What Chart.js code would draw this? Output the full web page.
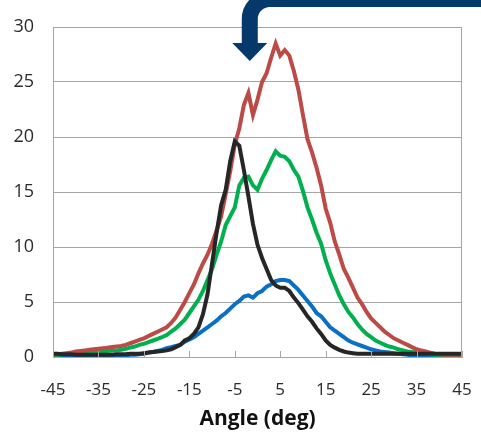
<!DOCTYPE html>
<html>
<head>
<meta charset="utf-8">
<script src="https://cdn.jsdelivr.net/npm/chart.js@4"></script>
<style>
html,body{margin:0;padding:0;background:#fff;}
#wrap{width:481px;height:433px;position:relative;}
</style>
</head>
<body>
<div id="wrap"><canvas id="c" width="481" height="433"></canvas></div>
<script>
// Angle (deg) sample positions, one per degree
const angles = [];
for (let a = -45; a <= 45; a++) angles.push(a);

const xTickValues = [-45, -35, -25, -15, -5, 5, 15, 25, 35, 45];

const redValues = [
  0.2,0.25,0.3,0.35,0.4,0.5,0.55,0.6,0.65,0.7,
  0.75,0.8,0.85,0.9,0.95,1.0,1.1,1.25,1.4,1.55,
  1.7,1.9,2.1,2.3,2.5,2.7,3.1,3.6,4.3,5.0,
  5.8,6.6,7.6,8.5,9.3,10.3,11.5,12.8,14.8,16.9,
  19.3,20.8,22.9,24.0,22.0,23.4,25.0,25.8,27.2,28.5,
  27.4,27.9,27.4,26.0,24.3,22.0,19.8,18.6,17.2,15.6,
  13.5,12.2,10.5,9.3,8.0,7.2,6.3,5.4,4.8,4.1,
  3.5,3.1,2.7,2.3,2.0,1.7,1.5,1.3,1.1,0.9,
  0.7,0.6,0.5,0.4,0.3,0.25,0.2,0.2,0.2,0.2,
  0.2
];
const greenValues = [
  0.15,0.2,0.25,0.3,0.3,0.35,0.4,0.4,0.45,0.5,
  0.5,0.55,0.55,0.6,0.6,0.65,0.75,0.85,0.95,1.1,
  1.2,1.35,1.5,1.65,1.8,2.0,2.3,2.6,3.0,3.4,
  4.0,4.6,5.2,6.0,7.0,8.0,9.3,10.5,12.0,12.8,
  13.6,15.6,16.3,16.4,15.6,15.2,16.2,17.0,17.9,18.7,
  18.3,18.2,17.8,17.0,16.4,15.1,13.6,12.5,11.3,10.3,
  8.8,7.6,6.6,5.6,4.8,4.1,3.6,3.0,2.5,2.1,
  1.8,1.5,1.3,1.1,0.95,0.85,0.7,0.6,0.5,0.45,
  0.4,0.35,0.3,0.25,0.2,0.2,0.15,0.15,0.15,0.15,
  0.15
];
const blueValues = [
  0.05,0.05,0.05,0.05,0.05,0.05,0.05,0.05,0.05,0.05,
  0.05,0.05,0.1,0.1,0.1,0.1,0.15,0.2,0.2,0.25,
  0.3,0.4,0.45,0.55,0.65,0.8,0.9,1.0,1.1,1.4,
  1.6,1.8,2.1,2.4,2.7,3.0,3.3,3.7,4.0,4.4,
  4.8,5.1,5.5,5.6,5.4,5.8,6.0,6.4,6.6,6.9,
  7.0,7.0,6.9,6.5,6.1,5.6,5.1,4.6,4.0,3.7,
  3.2,2.7,2.4,2.1,1.8,1.5,1.3,1.15,1.0,0.85,
  0.7,0.6,0.5,0.45,0.4,0.35,0.3,0.25,0.2,0.15,
  0.15,0.1,0.1,0.1,0.1,0.1,0.1,0.1,0.1,0.1,
  0.1
];
const blackValues = [
  0.3,0.3,0.25,0.25,0.25,0.2,0.2,0.2,0.2,0.2,
  0.2,0.2,0.2,0.2,0.25,0.25,0.25,0.3,0.3,0.3,
  0.35,0.4,0.45,0.5,0.55,0.6,0.7,0.9,1.1,1.5,
  1.7,2.1,2.7,3.9,5.7,8.5,11.3,13.8,15.2,17.8,
  19.6,19.2,17.0,14.6,12.1,10.2,9.0,8.0,7.0,6.5,
  6.3,6.3,6.0,5.4,4.9,4.3,3.7,3.2,2.6,2.1,
  1.5,1.1,0.85,0.65,0.5,0.4,0.35,0.3,0.3,0.3,
  0.3,0.3,0.3,0.3,0.3,0.3,0.3,0.3,0.3,0.3,
  0.3,0.3,0.3,0.3,0.3,0.3,0.3,0.3,0.3,0.3,
  0.3
];

const pts = vals => angles.map((a, i) => ({x: a, y: vals[i]}));

const FONT = "'Open Sans', 'DejaVu Sans', sans-serif";
const GRID = '#a6a6a6';

const frame = {
  id: 'frame',
  afterDraw(chart) {
    const {ctx, chartArea: ca, scales} = chart;
    const xs = scales.x;
    ctx.save();
    // plot border
    ctx.strokeStyle = GRID; ctx.lineWidth = 1;
    ctx.strokeRect(Math.round(ca.left) + 0.5, Math.round(ca.top) + 0.5,
                   Math.round(ca.right - ca.left) - 1, Math.round(ca.bottom - ca.top));
    // inward tick marks on x axis
    xTickValues.forEach(v => {
      const px = Math.round(xs.getPixelForValue(v)) + 0.5;
      ctx.beginPath();
      ctx.moveTo(px, ca.bottom - 6);
      ctx.lineTo(px, ca.bottom);
      ctx.stroke();
    });
    // annotation arrow
    const ax = xs.getPixelForValue(-1.7);
    const ys = scales.y;
    const tipY = ys.getPixelForValue(26.9);
    ctx.strokeStyle = '#05386b';
    ctx.fillStyle = '#05386b';
    ctx.lineWidth = 16;
    ctx.lineCap = 'butt';
    ctx.beginPath();
    ctx.moveTo(chart.width + 20, -1);
    ctx.lineTo(ax + 20, -1);
    ctx.arcTo(ax, -1, ax, 20, 20);
    ctx.lineTo(ax, tipY - 17);
    ctx.stroke();
    ctx.beginPath();
    ctx.moveTo(ax - 17.5, tipY - 18);
    ctx.lineTo(ax + 17.5, tipY - 18);
    ctx.lineTo(ax, tipY);
    ctx.closePath();
    ctx.fill();
    ctx.restore();
  }
};

const ds = (data, color) => ({
  data, borderColor: color, backgroundColor: color,
  borderWidth: 4, pointRadius: 0, tension: 0, fill: false
});

new Chart(document.getElementById('c'), {
  type: 'line',
  data: {
    datasets: [
      ds(pts(blackValues), '#262626'),
      ds(pts(redValues), '#bc4a47'),
      ds(pts(greenValues), '#00b04f'),
      ds(pts(blueValues), '#0a70c4')
    ]
  },
  options: {
    responsive: false,
    animation: false,
    parsing: true,
    layout: {padding: {top: 27, right: 19, left: 0, bottom: 0}},
    plugins: {legend: {display: false}, tooltip: {enabled: false}},
    scales: {
      x: {
        type: 'linear', min: -45, max: 45,
        afterBuildTicks: s => { s.ticks = xTickValues.map(v => ({value: v})); },
        afterFit: s => { s.height = 76; s.paddingLeft = 0; s.paddingRight = 0; },
        grid: {display: false, drawTicks: false},
        border: {display: true, color: GRID},
        ticks: {padding: 23, font: {family: FONT, size: 17}, color: '#2b2b2b',
                maxRotation: 0, autoSkip: false},
        title: {display: true, text: 'Angle (deg)', color: '#111',
                font: {family: FONT, size: 21, weight: 'bold'},
                padding: {top: 0, bottom: 1}}
      },
      y: {
        min: 0, max: 30,
        ticks: {stepSize: 5, padding: 19, font: {family: FONT, size: 18}, color: '#2b2b2b'},
        afterFit: s => { s.width = 53; s.paddingTop = 0; s.paddingBottom = 0; },
        grid: {color: GRID, drawTicks: false},
        border: {display: true, color: GRID}
      }
    }
  },
  plugins: [frame]
});
</script>
</body>
</html>
